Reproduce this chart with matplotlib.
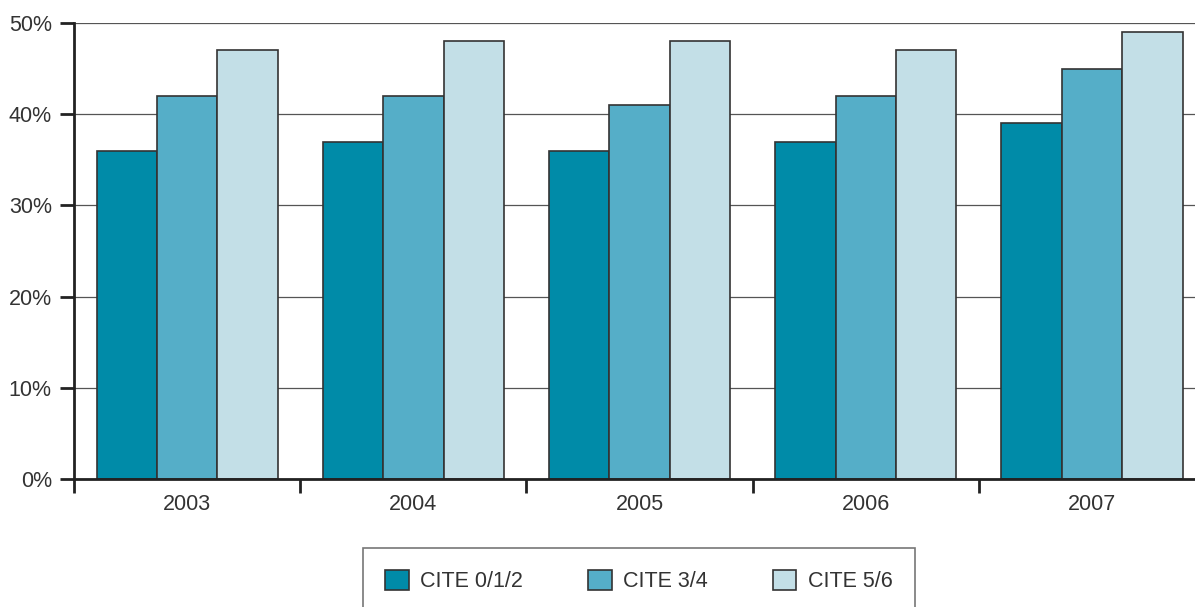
import numpy as np
import matplotlib.pyplot as plt

years = ["2003", "2004", "2005", "2006", "2007"]
cite_012 = [36, 37, 36, 37, 39]
cite_34 = [42, 42, 41, 42, 45]
cite_56 = [47, 48, 48, 47, 49]
labels = ["CITE 0/1/2", "CITE 3/4", "CITE 5/6"]
colors = ["#008ba8", "#55aec8", "#c3dfe7"]

plt.rcParams['font.family'] = ['Liberation Sans', 'DejaVu Sans']

fig = plt.figure(figsize=(11.95, 6.07), dpi=100)
ax = fig.add_axes([74/1195, 1-479/607, 1-74/1195, 456/607])

x = np.arange(len(years))
w = 0.267
for i, (vals, lab, c) in enumerate(zip([cite_012, cite_34, cite_56], labels, colors)):
    ax.bar(x + (i-1)*w, vals, w, color=c, edgecolor="#333333", linewidth=1.2, label=lab, zorder=3)

ax.set_yticks(range(0, 51, 10))
ax.set_yticklabels([f"{v}%" for v in range(0, 51, 10)])
ax.yaxis.grid(True, color="#555555", linewidth=0.9, zorder=0)
ax.set_xticks(x)
ax.set_xticklabels(years)
ax.set_xticks(np.arange(-0.5, 4.6, 1), minor=True)
ax.set_ylim(0, 50)
ax.set_xlim(-0.5, 4.5 - 10/226)
ax.tick_params(axis='x', which='major', length=0, pad=11)
ax.tick_params(axis='x', which='minor', length=10, width=2, color="#222222")
ax.tick_params(axis='y', length=10, width=2, color="#222222", pad=6)
ax.tick_params(labelsize=15.5, labelcolor="#333333")
for s in ["top", "right"]:
    ax.spines[s].set_visible(False)
for s in ["left", "bottom"]:
    ax.spines[s].set_linewidth(2)
    ax.spines[s].set_color("#222222")
    ax.spines[s].set_zorder(4)

leg = fig.legend(loc="upper center", bbox_to_anchor=(639/1195, 1-548/607), ncol=3,
                 fontsize=15.5, frameon=True, fancybox=False, edgecolor="#555555",
                 handlelength=1.1, handleheight=1.1, columnspacing=3.0, handletextpad=0.55,
                 borderpad=1.0, borderaxespad=0, labelcolor="#333333")
leg.get_frame().set_linewidth(1.2)

fig.savefig("out.png", dpi=100)
